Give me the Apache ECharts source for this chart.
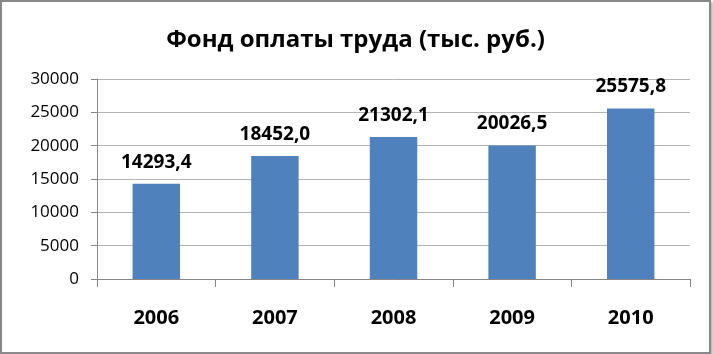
<!DOCTYPE html>
<html><head><meta charset="utf-8">
<script src="https://cdn.jsdelivr.net/npm/echarts@6/dist/echarts.min.js"></script>
<style>
html,body{margin:0;padding:0;background:#fff;}
#frame{position:absolute;left:0;top:0;width:707px;height:350px;border:2px solid #898989;box-shadow:2px 2px 2px #bbb;background:#fff;}
#c{width:707px;height:350px;}
</style></head><body>
<div id="frame"><div id="c"></div></div>
<script>
const titleText = 'Фонд оплаты труда (тыс. руб.)';
const categories = ['2006', '2007', '2008', '2009', '2010'];
const values = [14293.4, 18452.0, 21302.1, 20026.5, 25575.8];
const yTicks = [0, 5000, 10000, 15000, 20000, 25000, 30000];

const chart = echarts.init(document.getElementById('c'), null, {renderer: 'canvas'});
chart.setOption({
  animation: false,
  title: {
    text: titleText, left: 'center', top: 21,
    textStyle: {fontFamily: 'Open Sans', fontWeight: 'bold', fontSize: 24, color: '#000'}
  },
  grid: {left: 95, right: 19, top: 77, bottom: 73, containLabel: false},
  xAxis: {
    type: 'category', data: categories,
    axisLine: {lineStyle: {color: '#868686', width: 1}},
    axisTick: {show: true, length: 8, alignWithLabel: false, lineStyle: {color: '#868686'}},
    axisLabel: {margin: 29, fontFamily: 'Open Sans', fontWeight: 'bold', fontSize: 20, color: '#000'}
  },
  yAxis: {
    type: 'value', min: yTicks[0], max: yTicks[yTicks.length - 1], interval: 5000,
    axisLine: {show: true, lineStyle: {color: '#868686'}},
    axisTick: {show: true, length: 6, lineStyle: {color: '#868686'}},
    splitLine: {lineStyle: {color: '#b3b3b3'}},
    axisLabel: {margin: 18, fontFamily: 'Open Sans', fontSize: 17, color: '#000', formatter: v => String(v)}
  },
  series: [{
    type: 'bar', data: values, barWidth: '40%',
    itemStyle: {color: '#4f81bd'},
    label: {
      show: true, position: 'top', distance: 12,
      fontFamily: 'Open Sans', fontWeight: 'bold', fontSize: 19, color: '#000',
      formatter: p => p.value.toFixed(1).replace('.', ',')
    }
  }]
});
</script>
</body></html>
